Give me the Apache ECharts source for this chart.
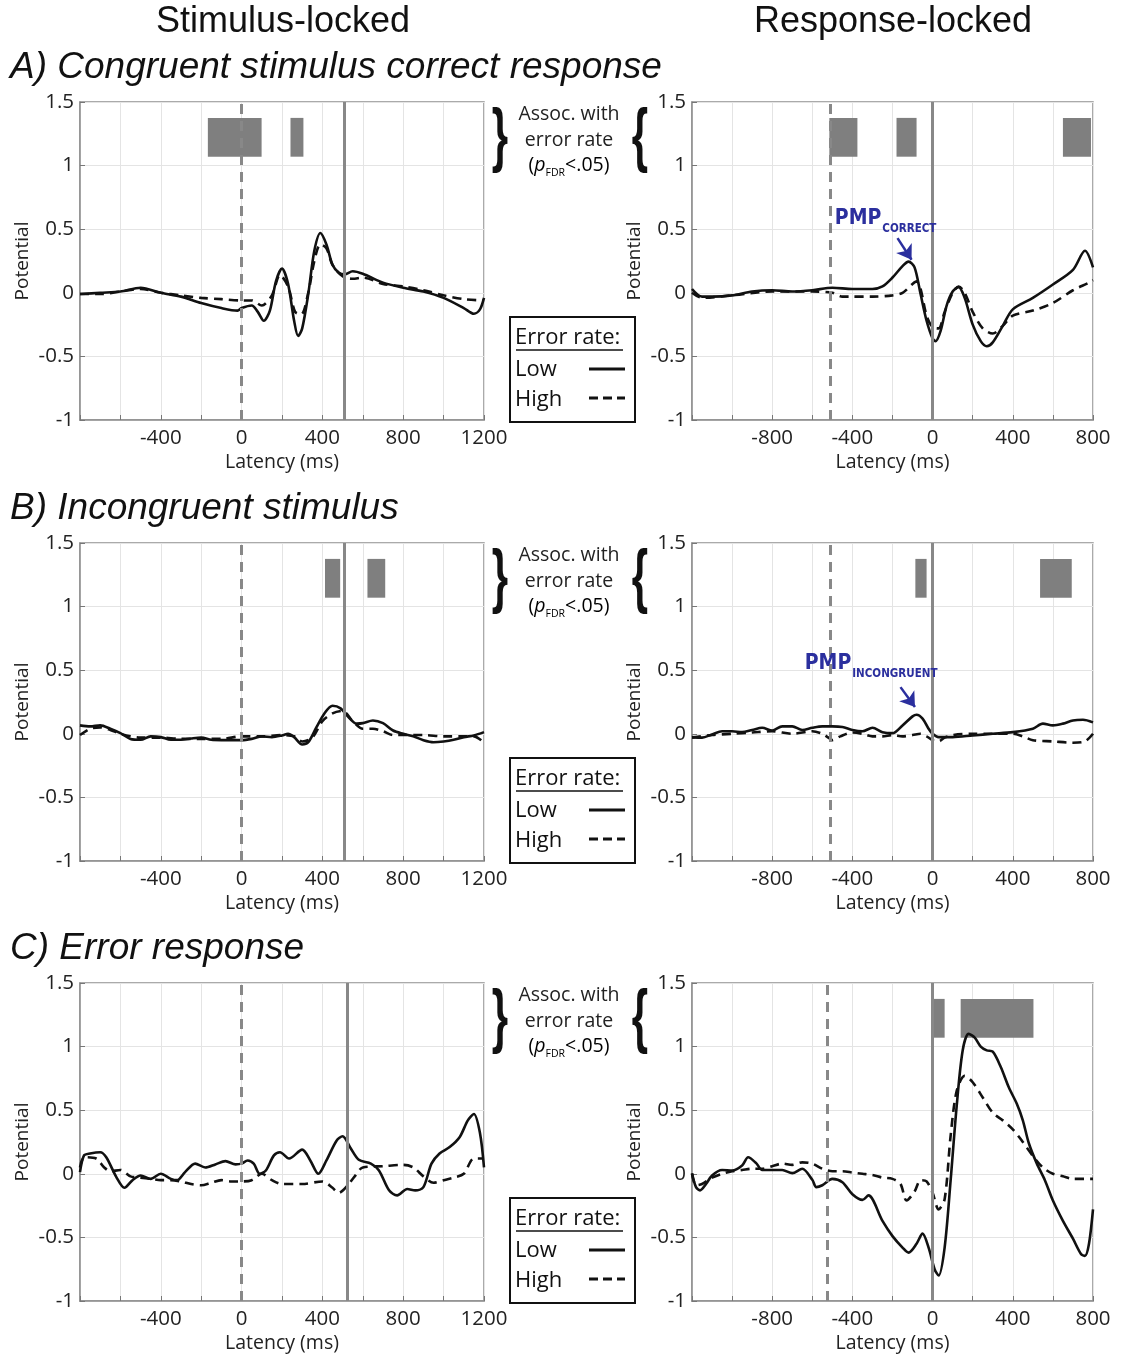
<!DOCTYPE html>
<html>
<head>
<meta charset="utf-8">
<script src="https://cdn.jsdelivr.net/npm/echarts@6/dist/echarts.min.js"></script>
<style>
	html, body { margin: 0; padding: 0; background: #fff; }
	#chart { width: 1124px; height: 1355px; }
</style>
</head>
<body>
<div id="chart"></div>
<script>
// ---- data: [latency ms, potential] ----
const aStimLow = [[-800,-0.01],[-700,0.0],[-600,0.01],[-500,0.04],[-400,0.0],[-300,-0.03],[-200,-0.08],[-100,-0.12],[-20,-0.14],[0,-0.12],[50,-0.10],[80,-0.15],[110,-0.22],[140,-0.14],[170,0.09],[200,0.19],[230,0.07],[260,-0.22],[280,-0.34],[300,-0.28],[330,-0.01],[360,0.33],[390,0.47],[420,0.38],[450,0.22],[480,0.16],[510,0.145],[550,0.17],[600,0.15],[700,0.08],[800,0.04],[900,0.01],[1000,-0.04],[1100,-0.12],[1150,-0.165],[1180,-0.13],[1200,-0.04]];
const aStimHigh = [[-800,-0.01],[-700,-0.01],[-600,0.01],[-500,0.03],[-400,0.0],[-300,-0.02],[-200,-0.04],[-100,-0.05],[0,-0.06],[50,-0.06],[100,-0.1],[150,-0.02],[190,0.14],[230,0.05],[265,-0.15],[295,-0.17],[330,0.0],[360,0.25],[390,0.38],[420,0.35],[450,0.22],[500,0.13],[550,0.11],[600,0.12],[700,0.07],[800,0.05],[900,0.02],[1000,-0.02],[1100,-0.05],[1200,-0.06]];
const aRespLow = [[-1200,0.03],[-1150,-0.03],[-1100,-0.03],[-1000,-0.02],[-900,0.01],[-800,0.02],[-700,0.01],[-600,0.02],[-500,0.04],[-400,0.03],[-300,0.03],[-250,0.05],[-200,0.12],[-150,0.21],[-120,0.245],[-90,0.2],[-60,-0.01],[-30,-0.22],[0,-0.36],[15,-0.38],[40,-0.3],[70,-0.1],[100,0.01],[130,0.045],[160,-0.04],[200,-0.25],[240,-0.38],[270,-0.42],[300,-0.39],[350,-0.26],[400,-0.13],[500,-0.04],[600,0.065],[700,0.18],[760,0.33],[800,0.2]];
const aRespHigh = [[-1200,0.0],[-1150,-0.04],[-1000,-0.02],[-800,0.01],[-600,0.01],[-500,0.0],[-450,-0.03],[-400,-0.03],[-300,-0.03],[-200,-0.02],[-150,0.0],[-100,0.07],[-80,0.09],[-60,0.03],[-30,-0.18],[0,-0.27],[30,-0.28],[60,-0.15],[100,0.0],[130,0.05],[160,0.0],[200,-0.15],[250,-0.28],[300,-0.32],[350,-0.26],[400,-0.18],[500,-0.14],[600,-0.08],[700,0.02],[780,0.08],[800,0.1]];

const bStimLow = [[-800,0.066],[-750,0.058],[-700,0.066],[-650,0.04],[-600,0.005],[-550,-0.04],[-500,-0.047],[-450,-0.02],[-400,-0.026],[-350,-0.047],[-300,-0.047],[-250,-0.037],[-200,-0.03],[-150,-0.047],[-100,-0.05],[0,-0.05],[50,-0.04],[100,-0.02],[150,-0.026],[200,-0.013],[230,0.0],[260,-0.026],[300,-0.084],[330,-0.066],[370,0.05],[410,0.16],[450,0.22],[490,0.2],[530,0.13],[570,0.08],[600,0.084],[650,0.105],[700,0.084],[750,0.026],[800,0.0],[850,-0.02],[900,-0.05],[950,-0.066],[1000,-0.06],[1050,-0.047],[1100,-0.026],[1150,-0.013],[1200,0.013]];
const bStimHigh = [[-800,-0.01],[-750,0.04],[-700,0.05],[-650,0.03],[-600,0.0],[-550,-0.02],[-500,-0.03],[-400,-0.03],[-300,-0.04],[-200,-0.04],[-100,-0.04],[0,-0.02],[100,-0.02],[200,-0.01],[260,-0.02],[300,-0.06],[350,-0.03],[400,0.1],[450,0.16],[500,0.18],[550,0.1],[600,0.04],[650,0.04],[700,0.02],[750,-0.01],[800,-0.01],[900,-0.01],[1000,-0.02],[1100,-0.02],[1150,-0.02],[1200,-0.07]];
const bRespLow = [[-1200,-0.026],[-1150,-0.03],[-1100,-0.005],[-1050,0.02],[-1000,0.02],[-950,0.013],[-900,0.03],[-850,0.047],[-800,0.026],[-750,0.058],[-700,0.058],[-650,0.03],[-600,0.047],[-550,0.058],[-500,0.058],[-450,0.053],[-400,0.03],[-350,0.02],[-300,0.047],[-250,0.013],[-200,0.005],[-150,0.066],[-100,0.137],[-80,0.15],[-50,0.12],[-20,0.04],[0,0.0],[30,-0.026],[100,-0.026],[200,-0.013],[300,0.0],[400,0.013],[500,0.04],[550,0.08],[600,0.066],[650,0.08],[700,0.105],[750,0.11],[800,0.09]];
const bRespHigh = [[-1200,-0.03],[-1100,-0.01],[-1000,0.0],[-900,0.01],[-800,0.02],[-700,0.0],[-600,0.02],[-550,0.0],[-520,-0.03],[-500,-0.05],[-460,-0.02],[-400,0.01],[-350,0.0],[-300,-0.02],[-250,-0.02],[-200,-0.01],[-150,-0.02],[-100,-0.01],[-60,0.0],[-30,-0.02],[0,-0.05],[30,-0.06],[60,-0.03],[100,-0.01],[200,0.0],[300,0.0],[400,0.0],[450,-0.02],[500,-0.05],[600,-0.06],[700,-0.07],[760,-0.06],[800,0.0]];

const cStimLow = [[-800,0.013],[-780,0.145],[-750,0.16],[-700,0.17],[-670,0.13],[-620,-0.026],[-580,-0.11],[-540,-0.05],[-500,-0.013],[-450,-0.04],[-400,0.0],[-350,-0.04],[-320,-0.05],[-280,0.013],[-230,0.08],[-180,0.05],[-130,0.074],[-80,0.1],[-30,0.074],[0,0.08],[30,0.105],[60,0.08],[90,0.0],[120,0.026],[160,0.145],[190,0.17],[235,0.12],[300,0.19],[340,0.105],[380,0.0],[420,0.105],[470,0.26],[500,0.295],[540,0.2],[580,0.11],[640,0.08],[680,0.026],[730,-0.13],[770,-0.17],[820,-0.12],[860,-0.13],[900,-0.105],[940,0.08],[980,0.16],[1030,0.21],[1080,0.29],[1120,0.42],[1150,0.47],[1180,0.32],[1200,0.05]];
const cStimHigh = [[-800,0.05],[-780,0.13],[-720,0.12],[-680,0.05],[-650,0.02],[-600,0.03],[-550,-0.02],[-500,-0.03],[-450,-0.04],[-400,-0.05],[-350,-0.05],[-300,-0.06],[-250,-0.08],[-200,-0.09],[-150,-0.07],[-100,-0.05],[-50,-0.06],[0,-0.06],[50,-0.05],[100,0.0],[150,-0.05],[200,-0.08],[300,-0.08],[400,-0.06],[450,-0.11],[480,-0.15],[520,-0.1],[560,-0.02],[600,0.05],[700,0.06],[800,0.07],[850,0.05],[900,-0.02],[950,-0.07],[1000,-0.05],[1050,-0.03],[1100,0.0],[1150,0.12],[1200,0.12]];
const cRespLow = [[-1200,0.005],[-1180,-0.105],[-1160,-0.13],[-1130,-0.08],[-1100,-0.013],[-1050,0.03],[-1000,0.026],[-950,0.066],[-920,0.13],[-880,0.084],[-850,0.03],[-800,0.03],[-750,0.03],[-700,0.005],[-650,0.04],[-600,-0.047],[-580,-0.105],[-550,-0.09],[-500,-0.04],[-450,-0.066],[-400,-0.16],[-350,-0.205],[-320,-0.17],[-250,-0.37],[-200,-0.49],[-150,-0.58],[-120,-0.62],[-80,-0.55],[-50,-0.47],[-20,-0.58],[10,-0.75],[30,-0.8],[60,-0.58],[90,-0.05],[120,0.53],[150,0.97],[180,1.1],[210,1.07],[240,1.0],[270,0.97],[300,0.96],[340,0.84],[380,0.68],[420,0.55],[450,0.42],[480,0.24],[520,0.08],[560,-0.05],[600,-0.21],[650,-0.37],[700,-0.51],[740,-0.63],[760,-0.645],[780,-0.55],[800,-0.28]];
const cRespHigh = [[-1200,0.0],[-1180,-0.09],[-1150,-0.08],[-1100,-0.03],[-1050,0.0],[-1000,0.02],[-950,0.03],[-900,0.04],[-850,0.04],[-800,0.06],[-750,0.08],[-700,0.07],[-650,0.09],[-600,0.08],[-550,0.04],[-500,0.02],[-450,0.02],[-400,0.01],[-350,0.0],[-300,-0.01],[-250,-0.03],[-200,-0.04],[-160,-0.08],[-130,-0.21],[-90,-0.14],[-60,-0.05],[-30,-0.06],[0,-0.15],[30,-0.28],[60,-0.2],[90,0.3],[120,0.65],[160,0.77],[200,0.72],[250,0.6],[300,0.48],[350,0.42],[400,0.35],[450,0.25],[500,0.14],[550,0.05],[600,0.0],[650,-0.02],[700,-0.04],[800,-0.04]];

// significance windows [start ms, end ms]
const sigAStim = [[-167,99],[242,306]];
const sigAResp = [[-515,-375],[-180,-80],[650,790]];
const sigBStim = [[413,488],[623,711]];
const sigBResp = [[-86,-30],[536,694]];
const sigCStim = [];
const sigCResp = [[0,60],[140,503]];
const sigBand = [1.07, 1.375];

// mean response time (ms) per condition
const rtA = 510;
const rtB = 510;
const rtC = 525;

// axis ticks
const yTicks = { min: -1, max: 1.5, interval: 0.5 };
const stimRange = { min: -800, max: 1200 };
const respRange = { min: -1200, max: 800 };

// PMP annotations: label anchor, arrow start, arrow end
const pmpCorrect = { label: [-490, 0.56], from: [-175, 0.43], to: [-105, 0.26], sub: "CORRECT" };
const pmpIncongruent = { label: [-640, 0.53], from: [-160, 0.367], to: [-88, 0.21], sub: "INCONGRUENT" };

// ---- styles ----
const FONT = "'Open Sans', 'Liberation Sans', sans-serif";
const TITLE_FONT = "'Liberation Sans', Arial, sans-serif";
const NARROW = "'Liberation Sans Narrow', 'DejaVu Sans Condensed', sans-serif";
const AXIS = "#8f8f8f";
const GRIDC = "#e4e4e4";
const MARK = "#888888";
const BLUE = "#2b2f9e";

const rowTops = [102, 543, 983];
const colLefts = [80, 692];
const colWidths = [404, 401];
const panelHeight = 318;

const panels = [
	{ row: 0, col: 0, low: aStimLow, high: aStimHigh, sig: sigAStim, rt: rtA },
	{ row: 0, col: 1, low: aRespLow, high: aRespHigh, sig: sigAResp, rt: rtA, pmp: pmpCorrect },
	{ row: 1, col: 0, low: bStimLow, high: bStimHigh, sig: sigBStim, rt: rtB },
	{ row: 1, col: 1, low: bRespLow, high: bRespHigh, sig: sigBResp, rt: rtB, pmp: pmpIncongruent },
	{ row: 2, col: 0, low: cStimLow, high: cStimHigh, sig: sigCStim, rt: rtC },
	{ row: 2, col: 1, low: cRespLow, high: cRespHigh, sig: sigCResp, rt: rtC }
];

const grids = [];
const xAxes = [];
const yAxes = [];
const series = [];

panels.forEach((p, i) => {
	const range = p.col === 0 ? stimRange : respRange;
	grids.push({
		left: colLefts[p.col],
		top: rowTops[p.row],
		width: colWidths[p.col],
		height: panelHeight,
		show: true,
		borderColor: AXIS,
		borderWidth: 1.5,
		backgroundColor: "#fff"
	});
	xAxes.push({
		gridIndex: i,
		type: "value",
		min: range.min,
		max: range.max,
		interval: 200,
		name: "Latency (ms)",
		nameLocation: "middle",
		nameGap: 32,
		nameTextStyle: { fontFamily: FONT, fontSize: 19.5, color: "#222" },
		axisLine: { show: true, onZero: false, lineStyle: { color: AXIS, width: 1.5 } },
		axisTick: { show: true, inside: true, length: 5, lineStyle: { color: "#777" } },
		axisLabel: {
			margin: 8,
			fontFamily: FONT,
			fontSize: 20.5,
			color: "#222",
			showMinLabel: true,
			showMaxLabel: true,
			formatter: v => (v % 400 === 0 && v !== range.min) ? String(v) : ""
		},
		splitLine: { show: true, lineStyle: { color: GRIDC, width: 1 } }
	});
	yAxes.push({
		gridIndex: i,
		type: "value",
		min: yTicks.min,
		max: yTicks.max,
		interval: yTicks.interval,
		name: "Potential",
		nameLocation: "middle",
		nameGap: 48,
		nameTextStyle: { fontFamily: FONT, fontSize: 19, color: "#222" },
		axisLine: { show: true, onZero: false, lineStyle: { color: AXIS, width: 1.5 } },
		axisTick: { show: true, inside: true, length: 5, lineStyle: { color: "#777" } },
		axisLabel: { margin: 6, fontFamily: FONT, fontSize: 20.5, color: "#222" },
		splitLine: { show: true, lineStyle: { color: GRIDC, width: 1 } }
	});

	// vertical reference lines: stimulus onset (dashed) and response (solid)
	const dashedAt = p.col === 0 ? 0 : -p.rt;
	const solidAt = p.col === 0 ? p.rt : 0;
	const markLines = [
		{ xAxis: dashedAt, lineStyle: { color: MARK, width: 3, type: [10, 7] } },
		{ xAxis: solidAt, lineStyle: { color: MARK, width: 3, type: "solid" } }
	];
	if (p.pmp) {
		markLines.push([
			{ coord: p.pmp.from, symbol: "none", lineStyle: { color: BLUE, width: 2.5, type: "solid" } },
			{ coord: p.pmp.to, symbol: "arrow", symbolSize: 14 }
		]);
	}

	series.push({
		type: "line",
		name: "High",
		xAxisIndex: i,
		yAxisIndex: i,
		data: p.high,
		smooth: 0.3,
		showSymbol: false,
		silent: true,
		z: 2,
		lineStyle: { color: "#111", width: 2.6, type: [9, 6] },
		markArea: {
			silent: true,
			itemStyle: { color: "#7f7f7f", opacity: 1 },
			data: p.sig.map(s => [{ coord: [s[0], sigBand[0]] }, { coord: [s[1], sigBand[1]] }])
		},
		markLine: {
			silent: true,
			symbol: ["none", "none"],
			label: { show: false },
			emphasis: { disabled: true },
			data: markLines
		}
	});
	series.push({
		type: "line",
		name: "Low",
		xAxisIndex: i,
		yAxisIndex: i,
		data: p.low,
		smooth: 0.3,
		showSymbol: false,
		silent: true,
		z: 3,
		lineStyle: { color: "#111", width: 2.6, type: "solid" },
		markPoint: p.pmp ? {
			silent: true,
			data: [{
				coord: p.pmp.label,
				symbol: "rect",
				symbolSize: 1,
				itemStyle: { color: "rgba(0,0,0,0)" },
				label: {
					show: true,
					position: "right",
					distance: 0,
					formatter: "{a|PMP}{b|" + p.pmp.sub + "}",
					rich: {
						a: { fontFamily: NARROW, fontWeight: "bold", fontSize: 21, color: BLUE, verticalAlign: "bottom", padding: [0, 1, 6, 0] },
						b: { fontFamily: NARROW, fontWeight: "bold", fontSize: 11.5, color: BLUE, verticalAlign: "bottom" }
					}
				}
			}]
		} : undefined
	});
});

// ---- page text, braces and legend boxes ----
const graphics = [
	{ type: "text", x: 283, y: 22, style: { text: "Stimulus-locked", fontFamily: TITLE_FONT, fontSize: 36, fill: "#111", textAlign: "center", textVerticalAlign: "middle" } },
	{ type: "text", x: 893, y: 22, style: { text: "Response-locked", fontFamily: TITLE_FONT, fontSize: 36, fill: "#111", textAlign: "center", textVerticalAlign: "middle" } }
];
const rowTitles = ["A) Congruent stimulus correct response", "B) Incongruent stimulus", "C) Error response"];
rowTitles.forEach((t, r) => {
	const dy = rowTops[r] - rowTops[0];
	graphics.push({ type: "text", x: 10, y: 68 + dy, style: { text: t, fontFamily: TITLE_FONT, fontStyle: "italic", fontSize: 37, fill: "#111", textAlign: "left", textVerticalAlign: "middle" } });

	// "Assoc. with error rate" note between the two panels
	graphics.push({ type: "text", x: 500, y: 139 + dy, scaleX: 0.6, style: { text: "}", fontFamily: TITLE_FONT, fontWeight: "bold", fontSize: 70, fill: "#111", textAlign: "center", textVerticalAlign: "middle" } });
	graphics.push({ type: "text", x: 640, y: 139 + dy, scaleX: 0.6, style: { text: "{", fontFamily: TITLE_FONT, fontWeight: "bold", fontSize: 70, fill: "#111", textAlign: "center", textVerticalAlign: "middle" } });
	graphics.push({ type: "text", x: 569, y: 114 + dy, style: { text: "Assoc. with", fontFamily: FONT, fontSize: 19.5, fill: "#222", textAlign: "center", textVerticalAlign: "middle" } });
	graphics.push({ type: "text", x: 569, y: 140 + dy, style: { text: "error rate", fontFamily: FONT, fontSize: 19.5, fill: "#222", textAlign: "center", textVerticalAlign: "middle" } });
	graphics.push({
		type: "text", x: 569, y: 167 + dy,
		style: {
			text: "{n|(}{i|p}{s|FDR}{n|<.05)}",
			textAlign: "center",
			textVerticalAlign: "middle",
			rich: {
				n: { fontFamily: FONT, fontSize: 19.5, color: "#222", verticalAlign: "bottom", padding: [0, 0, 4, 0] },
				i: { fontFamily: FONT, fontSize: 19.5, fontStyle: "italic", color: "#222", verticalAlign: "bottom", padding: [0, 0, 4, 0] },
				s: { fontFamily: FONT, fontSize: 10.5, color: "#222", verticalAlign: "bottom" }
			}
		}
	});

	// legend box
	const ly = 317 + dy;
	graphics.push({ type: "rect", shape: { x: 510, y: ly, width: 125, height: 105 }, style: { fill: "#fff", stroke: "#111", lineWidth: 2 } });
	graphics.push({ type: "text", x: 515, y: ly + 21, style: { text: "Error rate:", fontFamily: FONT, fontSize: 22, fill: "#111", textAlign: "left", textVerticalAlign: "middle" } });
	graphics.push({ type: "line", shape: { x1: 516, y1: ly + 33, x2: 623, y2: ly + 33 }, style: { stroke: "#111", lineWidth: 1.5 } });
	graphics.push({ type: "text", x: 515, y: ly + 53, style: { text: "Low", fontFamily: FONT, fontSize: 22, fill: "#111", textAlign: "left", textVerticalAlign: "middle" } });
	graphics.push({ type: "line", shape: { x1: 589, y1: ly + 52, x2: 625, y2: ly + 52 }, style: { stroke: "#111", lineWidth: 3 } });
	graphics.push({ type: "text", x: 515, y: ly + 83, style: { text: "High", fontFamily: FONT, fontSize: 22, fill: "#111", textAlign: "left", textVerticalAlign: "middle" } });
	graphics.push({ type: "line", shape: { x1: 589, y1: ly + 81, x2: 625, y2: ly + 81 }, style: { stroke: "#111", lineWidth: 3, lineDash: [9, 5] } });
});

const chart = echarts.init(document.getElementById("chart"));
chart.setOption({
	animation: false,
	backgroundColor: "#fff",
	grid: grids,
	xAxis: xAxes,
	yAxis: yAxes,
	series: series,
	graphic: graphics
});
</script>
</body>
</html>
